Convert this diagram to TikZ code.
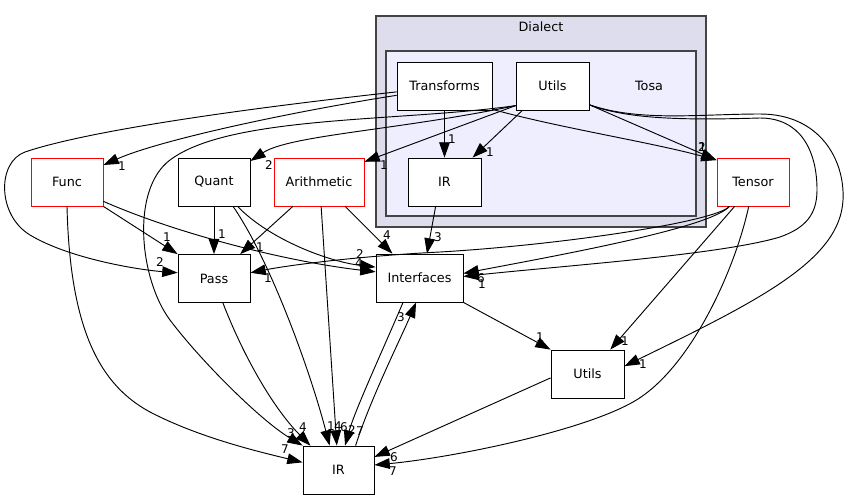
\documentclass[tikz,border=0pt]{standalone}
\usepackage{fontspec}
\setmainfont{DejaVu Sans}
\usetikzlibrary{arrows.meta}
\definecolor{dialectfill}{HTML}{DDDDEE}
\definecolor{tosafill}{HTML}{EEEEFF}
\definecolor{clusterline}{HTML}{444444}

\begin{document}
\begin{tikzpicture}[x=0.75pt,y=-0.75pt,
  dirbox/.style={draw=black,fill=white,line width=.6pt,minimum width=54pt,minimum height=36pt,inner sep=0pt,font=\fontsize{9.6}{11}\selectfont},
  extbox/.style={dirbox,draw=red},
  clusterbox/.style={draw=clusterline,line width=.9pt},
  dep/.style={-{Triangle[length=11.5pt,width=8pt]},line width=.7pt},
  cnt/.style={inner sep=0pt,font=\fontsize{9}{10}\selectfont}]
\useasboundingbox (0,0) rectangle (848,500);
% clusters
\draw[clusterbox,fill=dialectfill] (376,16) rectangle (706,227);
\draw[clusterbox,fill=tosafill] (386,51) rectangle (696,216);
\node[font=\fontsize{9.6}{11}\selectfont] (dialectlbl) at (541,27) {Dialect};
\node[font=\fontsize{9.6}{11}\selectfont] (tosalbl) at (649,86) {Tosa};
% directories
\node[dirbox,minimum width=71.25pt] (trans) at (444.5,86) {Transforms};
\node[dirbox,minimum width=54.75pt] (tutils) at (552.5,86) {Utils};
\node[dirbox,minimum width=54.75pt] (tir) at (444.5,182) {IR};
\node[extbox] (func) at (67,182) {Func};
\node[dirbox] (quant) at (214,182) {Quant};
\node[extbox,minimum width=67.5pt] (arith) at (319,182) {Arithmetic};
\node[extbox] (tensor) at (753,182) {Tensor};
\node[dirbox] (pass) at (214,278.5) {Pass};
\node[dirbox,minimum width=65.25pt] (interf) at (419.5,278) {Interfaces};
\node[dirbox,minimum width=54.75pt] (utils) at (587.5,374) {Utils};
\node[dirbox,minimum width=53.25pt] (ir) at (338.5,470) {IR};
% dependencies out of Tosa
\draw[dep] (trans.south) -- (tir.north);
\draw[dep] (tutils.-141) -- (tir.41);
\draw[dep] (trans.-26) .. controls (560,128) and (650,142) .. (tensor.149);
\draw[dep] (tutils.-27) -- (tensor.149);
\draw[dep] (trans.191) .. controls (290,112) and (160,140) .. (func.25);
\draw[dep] (trans.187) .. controls (250,108) and (90,130) .. (25,152) .. controls (-3,162) and (-3,215) .. (30,235) .. controls (70,259) and (140,270) .. (pass.171);
\draw[dep] (tutils.-152) .. controls (400,130) and (290,135) .. (quant.30);
\draw[dep] (tutils.-152) -- (arith.24);
\draw[dep] (tutils.-152) .. controls (400,122) and (230,115) .. (170,160) .. controls (130,190) and (140,280) .. (170,320) .. controls (200,360) and (260,420) .. (ir.north west);
\draw[dep] (tutils.-27) .. controls (630,120) and (690,120) .. (760,118) .. controls (800,118) and (817,150) .. (817,190) .. controls (817,215) and (805,228) .. (780,237) .. controls (720,255) and (560,266) .. (interf.2);
\draw[dep] (tutils.-27) .. controls (640,122) and (700,114) .. (760,114) .. controls (820,114) and (845,160) .. (843,200) .. controls (840,260) and (760,300) .. (utils.12);
\draw[dep] (tir.-110) -- (interf.73);
% Tensor
\draw[dep] (tensor.-134) .. controls (715,222) and (560,245) .. (440,252) .. controls (360,256) and (290,265) .. (pass.9);
\draw[dep] (tensor.-134) .. controls (710,228) and (560,255) .. (interf.6);
\draw[dep] (tensor.-127) -- (utils.47);
\draw[dep] (tensor.-100) .. controls (735,270) and (690,370) .. (633,402) .. controls (580,432) and (450,458) .. (ir.8);
% Func, Quant, Arithmetic
\draw[dep] (func.south east) -- (pass.north west);
\draw[dep] (func.-28) .. controls (180,235) and (290,262) .. (interf.172);
\draw[dep] (func.south) .. controls (70,330) and (100,385) .. (150,412) .. controls (200,438) and (260,452) .. (ir.168);
\draw[dep] (quant.south) -- (pass.north);
\draw[dep] (quant.-46) .. controls (270,240) and (330,262) .. (interf.166);
\draw[dep] (quant.-52) .. controls (270,260) and (310,370) .. (ir.110);
\draw[dep] (arith.-137) -- (pass.43);
\draw[dep] (arith.-43) -- (interf.138);
\draw[dep] (arith.-85) -- (ir.94);
% Pass, Interfaces, Utils, IR
\draw[dep] (pass.-70) .. controls (245,360) and (275,410) .. (ir.139);
\draw[dep] (interf.south east) -- (utils.north west);
\draw[dep] (interf.-124) .. controls (385,345) and (355,410) .. (ir.75);
\draw[dep] (ir.55) .. controls (370,400) and (400,340) .. (interf.-98);
\draw[dep] (utils.186) -- (ir.20);
% counts
\node[cnt] (k1) at (452,139) {1};
\node[cnt] (k2) at (490,152) {1};
\node[cnt] (k3) at (702,147) {2};
\node[cnt] (k4) at (702.5,147) {1};
\node[cnt] (k5) at (122,166) {1};
\node[cnt] (k6) at (269,165) {2};
\node[cnt] (k7) at (384,165) {1};
\node[cnt] (k8) at (160,262) {2};
\node[cnt] (k9) at (167,237) {1};
\node[cnt] (k10) at (222,234) {1};
\node[cnt] (k11) at (260,247) {1};
\node[cnt] (k12) at (268,278) {1};
\node[cnt] (k13) at (387,235) {4};
\node[cnt] (k14) at (438,237) {3};
\node[cnt] (k15) at (360,254) {2};
\node[cnt] (k16) at (359,263) {4};
\node[cnt] (k17) at (481,278) {6};
\node[cnt] (k18) at (482,284) {1};
\node[cnt] (k19) at (401,317) {3};
\node[cnt] (k20) at (540,337) {1};
\node[cnt] (k21) at (625,341) {1};
\node[cnt] (k22) at (643,364) {1};
\node[cnt] (k23) at (291,433) {3};
\node[cnt] (k24) at (303,427) {4};
\node[cnt] (k25) at (285,449) {7};
\node[cnt] (k26) at (331,426) {1};
\node[cnt] (k27) at (338,426) {4};
\node[cnt] (k28) at (344,427) {6};
\node[cnt] (k29) at (352,430) {2};
\node[cnt] (k30) at (360,431) {7};
\node[cnt] (k31) at (394,457) {6};
\node[cnt] (k32) at (393,471) {7};
\end{tikzpicture}
\end{document}
